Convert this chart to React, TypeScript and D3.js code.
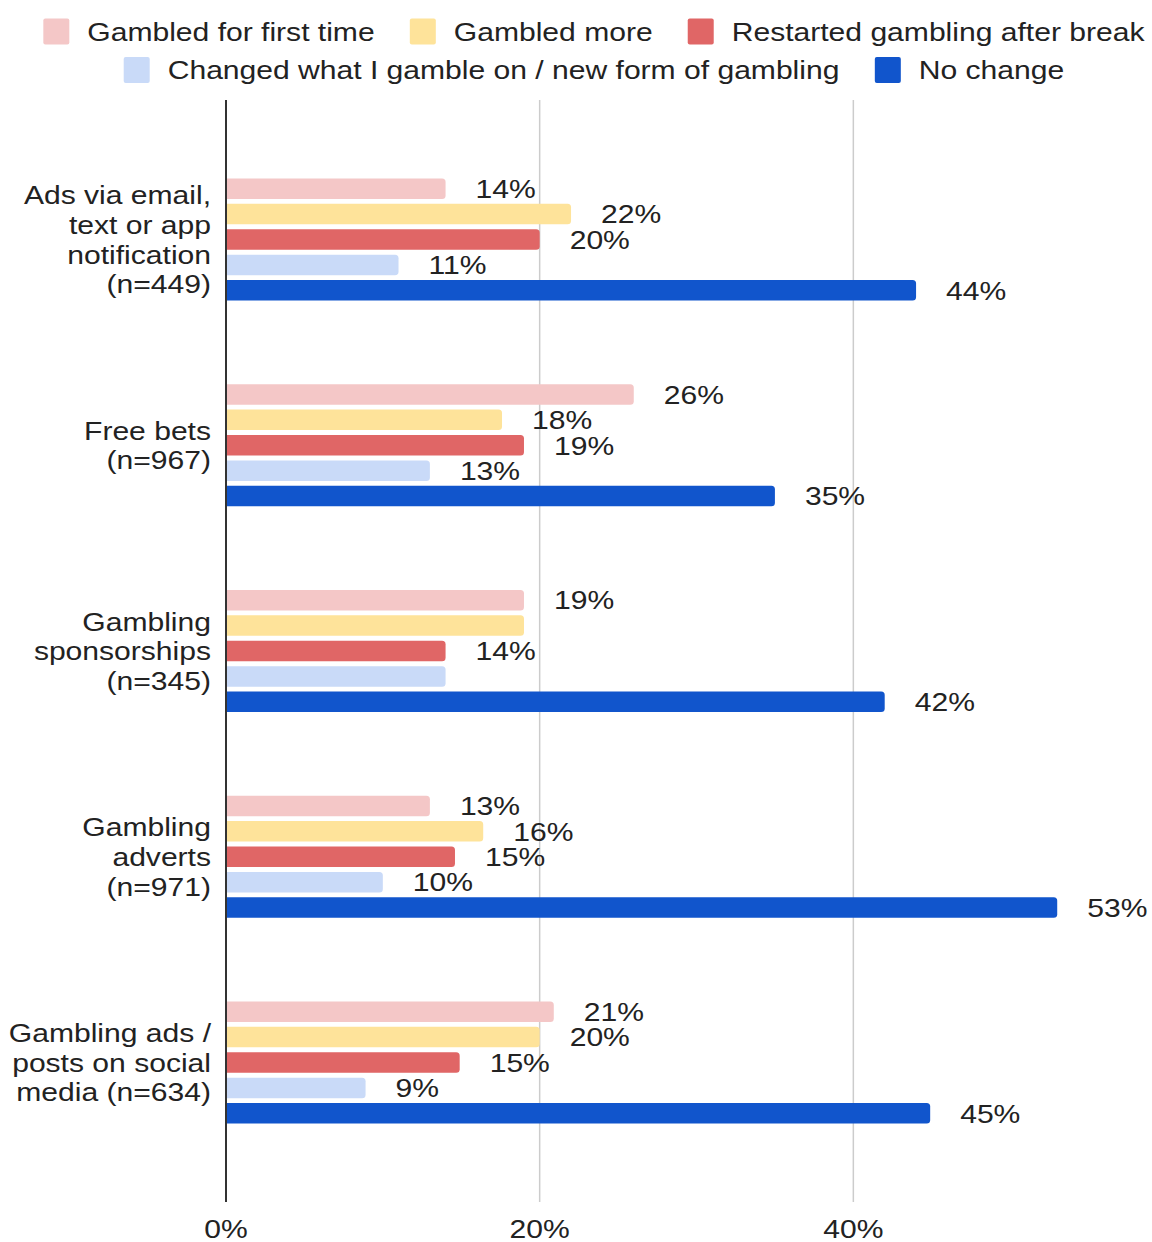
import React from "react";
import * as d3 from "d3";

const categories: string[][] = [
  ["Ads via email,", "text or app", "notification", "(n=449)"],
  ["Free bets", "(n=967)"],
  ["Gambling", "sponsorships", "(n=345)"],
  ["Gambling", "adverts", "(n=971)"],
  ["Gambling ads /", "posts on social", "media (n=634)"],
];
const seriesNames = [
  "Gambled for first time",
  "Gambled more",
  "Restarted gambling after break",
  "Changed what I gamble on / new form of gambling",
  "No change",
];
const seriesColors = ["#f4c7c7", "#fee39a", "#e06666", "#c9daf8", "#1155cc"];
const gambledFirstTime = [14, 26, 19, 13, 20.9];
const gambledMore = [22, 17.6, 19, 16.4, 20];
const restarted = [20, 19, 14, 14.6, 14.9];
const changedForm = [11, 13, 14, 10, 8.9];
const noChange = [44, 35, 42, 53, 44.9];
const seriesValues = [gambledFirstTime, gambledMore, restarted, changedForm, noChange];
const xTicks = [0, 20, 40];
const legendRows = [[0, 1, 2], [3, 4]];

const W = 1152;
const H = 1242;
const FONT = '"Liberation Sans", Arial, sans-serif';
const FS = 26.5;
const SX = 1.135;
const TEXT = "#222";

function measure(t: string): number {
  const c = document.createElement("canvas").getContext("2d")!;
  c.font = `${FS}px ${FONT}`;
  return c.measureText(t).width * SX;
}

function barPath(x0: number, x1: number, y: number, h: number, r: number) {
  const rr = Math.min(r, (x1 - x0) / 2, h / 2);
  return `M${x0},${y}H${x1 - rr}Q${x1},${y} ${x1},${y + rr}V${y + h - rr}Q${x1},${y + h} ${x1 - rr},${y + h}H${x0}Z`;
}

function T(props: { x: number; y: number; anchor?: string; children: React.ReactNode }) {
  return (
    <text
      transform={`translate(${props.x},${props.y}) scale(${SX},1)`}
      dy="0.35em"
      textAnchor={props.anchor || "start"}
      fontSize={FS}
      fill={TEXT}
    >
      {props.children}
    </text>
  );
}

export default function App() {
  const plotTop = 100;
  const plotBottom = 1202;
  const x = d3.scaleLinear().domain([0, 60]).range([226, 1167]);
  const keys = categories.map((_, i) => String(i));
  const y = d3.scaleBand<string>().domain(keys).range([plotTop, plotBottom]).paddingInner(0).paddingOuter(0.178);
  const sub = d3
    .scaleBand<string>()
    .domain(seriesNames)
    .range([-61.05, 61.05])
    .paddingInner(0.193)
    .paddingOuter(0);

  const legendCenter = 594;
  const legendY = [31.5, 70];
  const legendItems: React.ReactElement[] = [];
  legendRows.forEach((row, ri) => {
    const widths = row.map((i) => 26 + 18 + measure(seriesNames[i]));
    const total = d3.sum(widths) + 35 * (row.length - 1);
    let cx = legendCenter - total / 2;
    row.forEach((i, k) => {
      legendItems.push(
        <g key={`lg${i}`}>
          <rect x={cx} y={legendY[ri] - 13} width={26} height={26} rx={2} fill={seriesColors[i]} />
          <T x={cx + 44} y={legendY[ri]}>
            {seriesNames[i]}
          </T>
        </g>
      );
      cx += widths[k] + 35;
    });
  });

  const fmt = (v: number) => `${Math.round(v)}%`;

  return (
    <svg
      width={W}
      height={H}
      style={{ position: "absolute", left: 0, top: 0, background: "#fff" }}
      fontFamily={FONT}
    >
      <rect width={W} height={H} fill="#fff" />
      {xTicks
        .filter((t) => t !== 0)
        .map((t) => (
          <line key={`g${t}`} x1={x(t)} x2={x(t)} y1={plotTop} y2={plotBottom} stroke="#cccccc" strokeWidth={1.5} />
        ))}
      {categories.map((lines, ci) => {
        const cy = y(String(ci))! + y.bandwidth() / 2;
        const lh = 29.7;
        return (
          <g key={`c${ci}`}>
            {lines.map((ln, li) => (
              <T key={li} x={211} y={cy + (li - (lines.length - 1) / 2) * lh} anchor="end">
                {ln}
              </T>
            ))}
            {seriesNames.map((s, si) => {
              const v = seriesValues[si][ci];
              const by = cy + sub(s)!;
              const prev = si > 0 ? fmt(seriesValues[si - 1][ci]) : null;
              const showLabel = prev !== fmt(v);
              return (
                <g key={s}>
                  <path d={barPath(x(0), x(v), by, sub.bandwidth(), 3.5)} fill={seriesColors[si]} />
                  {showLabel && (
                    <T x={x(v) + 30} y={by + sub.bandwidth() / 2}>
                      {fmt(v)}
                    </T>
                  )}
                </g>
              );
            })}
          </g>
        );
      })}
      <line x1={x(0)} x2={x(0)} y1={plotTop} y2={plotBottom} stroke="#333" strokeWidth={2} />
      {xTicks.map((t) => (
        <T key={`t${t}`} x={x(t)} y={1229} anchor="middle">
          {`${t}%`}
        </T>
      ))}
      {legendItems}
    </svg>
  );
}
